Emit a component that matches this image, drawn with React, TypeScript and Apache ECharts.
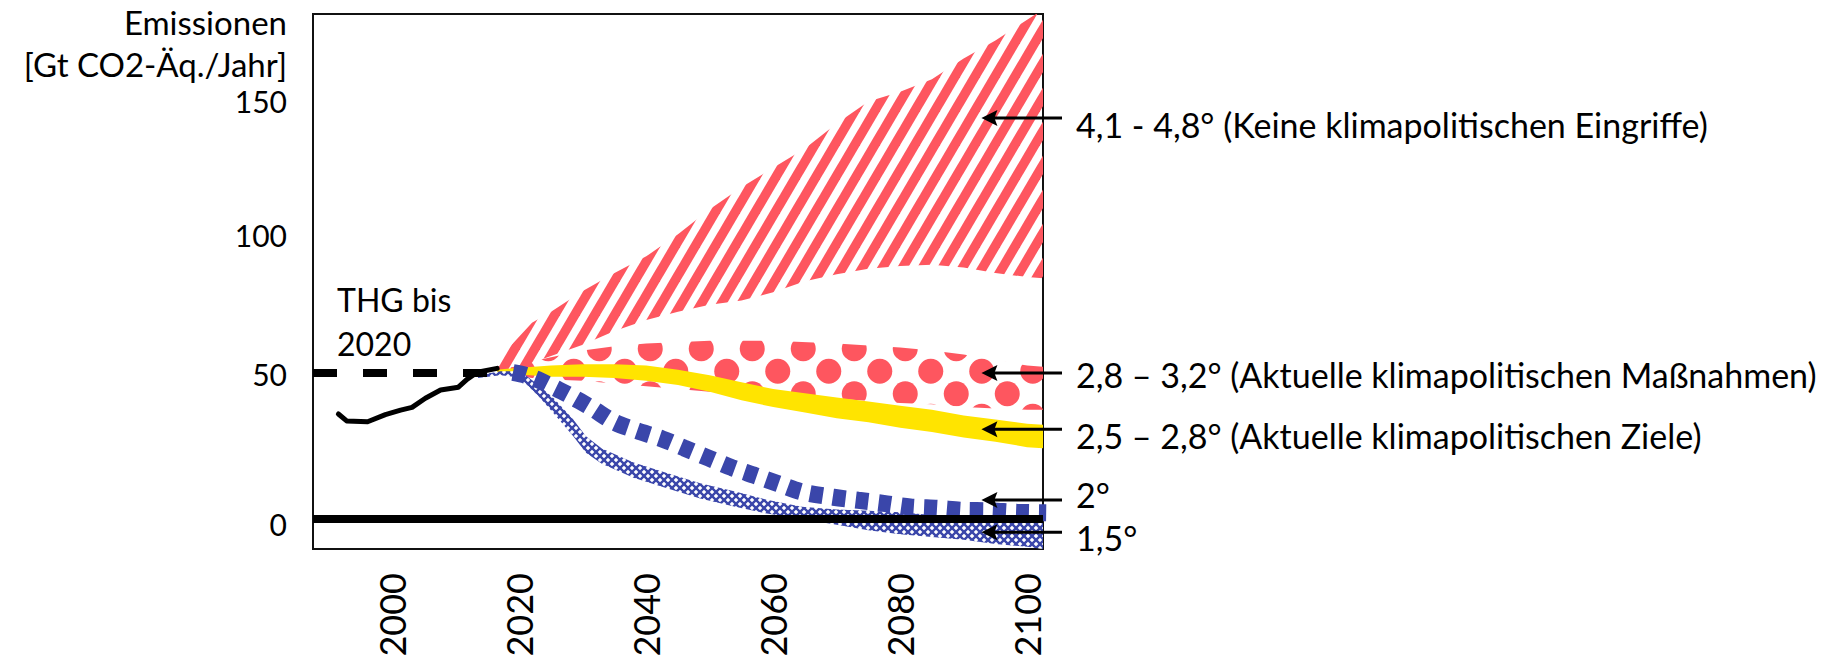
import React, { useEffect, useRef } from 'react';
import * as echarts from 'echarts';

// ---------- axes ----------
const X_MIN = 1987.5;
const X_MAX = 2102.5;
const Y_MIN = -10.8;
const Y_MAX = 182.6;
const X_TICKS = [2000, 2020, 2040, 2060, 2080, 2100];
const Y_TICKS = [0, 50, 100, 150];

// ---------- historical emissions ----------
const historyYears = [1991.5, 1992.8, 1996.1, 1998.9, 2001.3, 2003.1, 2005.2, 2007.6, 2010.4, 2011.8, 2013.4, 2016.5];
const historyValues = [38, 35.5, 35.2, 37.8, 39.4, 40.4, 43.7, 46.7, 47.7, 50.6, 53.1, 54.5];
const refYears = [1987.5, 2016];
const refValues = [52.8, 52.8];
const zeroYears = [X_MIN, X_MAX];
const zeroValues = [0, 0];

// ---------- 4,1 - 4,8° (no policy) ----------
const noPolicyYears = [2016.5, 2018, 2020, 2022, 2025, 2030, 2035, 2040, 2045, 2050, 2055, 2060, 2065, 2070, 2075, 2080, 2085, 2090, 2095, 2100, 2103];
const noPolicyHigh = [55, 61, 66, 71, 75, 82.5, 89, 95, 103, 112, 120, 127, 134, 143, 151, 154.5, 159, 166.5, 173, 180.5, 185];
const noPolicyLow = [53, 54, 55, 56.5, 59, 63, 68, 72, 75, 77.5, 79, 82, 86, 88.5, 90.5, 91.5, 92, 91, 89, 87.5, 87];

// ---------- 2,8 - 3,2° (current policies) ----------
const currentYears = [2016.5, 2019, 2022, 2025, 2030, 2035, 2040, 2050, 2060, 2070, 2080, 2085, 2090, 2095, 2100, 2103];
const currentHigh = [54, 55, 57, 58.5, 61, 62.5, 63.5, 64.5, 64.5, 63.5, 62, 61, 59.5, 57.5, 55.5, 55];
const currentLow = [53, 52, 51, 50.5, 50, 49, 48, 46, 45, 43.5, 42, 41.5, 40.5, 40, 39.5, 39.5];

// ---------- 2,5 - 2,8° (pledges) ----------
const pledgeYears = [2016.5, 2019, 2025, 2030, 2035, 2040, 2045, 2050, 2055, 2060, 2065, 2070, 2075, 2080, 2085, 2090, 2095, 2100, 2103];
const pledgeHigh = [54, 54.5, 55.5, 56, 56, 55.5, 54, 52, 49.5, 47, 45.5, 44, 42.5, 41, 39.5, 37.5, 36, 34.5, 34];
const pledgeLow = [53, 52.5, 51.5, 51.5, 51, 50, 48.5, 46, 43, 40.5, 38.5, 36.5, 35, 33, 31.5, 29.5, 28, 26, 25.5];

// ---------- 2° ----------
const c2Years = [2019, 2021, 2023.3, 2025.5, 2027.7, 2031.5, 2035, 2038.5, 2042.5, 2046, 2049.8, 2053.5, 2057.2, 2060.8, 2064.6, 2069.5, 2073.4, 2077.4, 2081.6, 2085.8, 2089.9, 2094.2, 2098.4, 2103];
const c2Values = [53, 52, 50, 47.5, 45, 40, 35, 32, 29, 25.7, 22.1, 18.6, 15.7, 12.8, 9.8, 7.9, 6.8, 5.7, 4.4, 3.9, 3.2, 3, 2.5, 2.3];

// ---------- 1,5° ----------
const c15Years = [2013.5, 2017, 2019, 2021, 2023, 2025.5, 2028.5, 2030.5, 2033, 2038, 2043.5, 2048.5, 2054, 2059, 2064.5, 2070, 2075, 2080, 2085, 2090, 2095, 2100, 2103];
const c15High = [52, 53.5, 53.5, 52, 48.5, 43.5, 36, 30, 25.5, 20.5, 16.5, 13, 10, 7, 4.5, 3.5, 3, 2.5, 1.5, 1, 0.5, 0, 0];
const c15Low = [51, 52, 51.5, 49, 44.5, 38, 30, 24, 20, 15, 11, 7.5, 4.5, 2, 0, -2, -4, -5.5, -6.5, -7.5, -9, -10, -11];

// ---------- annotations ----------
const ARROW_TIP_YEAR = 2092.8;
const arrowValues = [145, 52.8, 32.5, 6.9, -4.7];
const arrowLabels = [
  '4,1 - 4,8° (Keine klimapolitischen Eingriffe)',
  '2,8 – 3,2° (Aktuelle klimapolitischen Maßnahmen)',
  '2,5 – 2,8° (Aktuelle klimapolitischen Ziele)',
  '2°',
  '1,5°',
];
const labelDy = [6, 1, 6, -6, 5];
const yTitle = 'Emissionen\n[Gt CO2-Äq./Jahr]';
const histLabel = 'THG bis\n2020';

const RED = '#fe565f';
const BLUE = '#3a46aa';
const YELLOW = '#ffe400';
const FONT = 'Lato';

function makeCanvas(w: number, h: number, draw: (g: CanvasRenderingContext2D) => void) {
  const c = document.createElement('canvas');
  c.width = w;
  c.height = h;
  const g = c.getContext('2d') as CanvasRenderingContext2D;
  draw(g);
  return c;
}

function pattern(c: HTMLCanvasElement) {
  return { image: c, repeat: 'repeat', imageWidth: c.width, imageHeight: c.height } as any;
}

function bandSeries(name: string, years: number[], lo: number[], hi: number[], fill: any, z: number) {
  return {
    type: 'custom',
    name,
    z,
    clip: true,
    silent: true,
    coordinateSystem: 'cartesian2d',
    data: years.map((y, i) => [y, lo[i], hi[i]]),
    encode: { x: 0, y: [1, 2] },
    renderItem: (params: any, api: any) => {
      if (params.dataIndex !== 0) return null;
      const top = years.map((y, i) => api.coord([y, hi[i]]));
      const bottom = years.map((y, i) => api.coord([y, lo[i]])).reverse();
      return {
        type: 'polygon',
        shape: { points: top.concat(bottom) },
        style: { fill, stroke: null },
      };
    },
  };
}

function lineSeries(name: string, years: number[], values: number[], lineStyle: any, z: number, smooth: any = false) {
  return {
    type: 'line',
    name,
    z,
    silent: true,
    symbol: 'none',
    showSymbol: false,
    smooth,
    clip: true,
    data: years.map((y, i) => [y, values[i]]),
    lineStyle,
  };
}

export default function App() {
  const ref = useRef<HTMLDivElement>(null);

  useEffect(() => {
    if (!ref.current) return;
    const chart = echarts.init(ref.current, undefined, { renderer: 'svg' });

    const stripes = makeCanvas(20, 34, (g) => {
      g.strokeStyle = RED;
      g.lineWidth = 9.5;
      for (const dx of [-40, -20, 0, 20, 40]) {
        g.beginPath();
        g.moveTo(dx - 20, 68);
        g.lineTo(dx + 40, -34);
        g.stroke();
      }
    });
    const dots = makeCanvas(51, 45, (g) => {
      g.fillStyle = RED;
      const centers = [
        [12.75, 11.25],
        [38.25, 33.75],
      ];
      for (const [cx, cy] of centers) {
        for (const ox of [-51, 0, 51]) {
          for (const oy of [-45, 0, 45]) {
            g.beginPath();
            g.arc(cx + ox, cy + oy, 12.5, 0, Math.PI * 2);
            g.fill();
          }
        }
      }
    });
    const hatch = makeCanvas(8, 8, (g) => {
      g.fillStyle = '#ffffff';
      g.fillRect(0, 0, 8, 8);
      g.strokeStyle = BLUE;
      g.lineWidth = 2.4;
      for (const d of [-8, 0, 8]) {
        g.beginPath();
        g.moveTo(d - 2, -2);
        g.lineTo(d + 10, 10);
        g.stroke();
        g.beginPath();
        g.moveTo(d - 2, 10);
        g.lineTo(d + 10, -2);
        g.stroke();
      }
    });

    const axisFont = { fontFamily: FONT, color: '#000' };
    // small vertical nudges of the hand-placed tick labels in the original
    const yLabelRich: any = {
      t0: { fontFamily: FONT, fontSize: 30, color: '#000', padding: [10, 0, 0, 0] },
      t50: { fontFamily: FONT, fontSize: 30, color: '#000', padding: [0, 0, 14, 0] },
      t100: { fontFamily: FONT, fontSize: 30, color: '#000', padding: [0, 0, 14, 0] },
      t150: { fontFamily: FONT, fontSize: 30, color: '#000', padding: [0, 0, 6, 0] },
    };

    const option: any = {
      animation: false,
      backgroundColor: '#ffffff',
      grid: {
        left: 313,
        right: 790,
        top: 14,
        bottom: 111,
        show: true,
        borderColor: '#111',
        borderWidth: 2,
        containLabel: false,
        outerBoundsMode: 'none',
      },
      xAxis: {
        type: 'value',
        min: X_MIN,
        max: X_MAX,
        axisLine: { show: false },
        axisTick: { show: false },
        splitLine: { show: false },
        axisLabel: {
          ...axisFont,
          customValues: X_TICKS,
          rotate: 90,
          margin: 24,
          fontSize: 36,
          formatter: (v: number) => String(v),
        },
      },
      yAxis: {
        type: 'value',
        min: Y_MIN,
        max: Y_MAX,
        axisLine: { show: false },
        axisTick: { show: false },
        splitLine: { show: false },
        axisLabel: {
          ...axisFont,
          customValues: Y_TICKS,
          margin: 26,
          fontSize: 30,
          formatter: (v: number) => `{t${v}|${v}}`,
          rich: yLabelRich,
        },
      },
      series: [
        bandSeries('4,1 - 4,8°', noPolicyYears, noPolicyLow, noPolicyHigh, pattern(stripes), 1),
        bandSeries('2,8 - 3,2°', currentYears, currentLow, currentHigh, pattern(dots), 2),
        bandSeries('2,5 - 2,8°', pledgeYears, pledgeLow, pledgeHigh, YELLOW, 3),
        bandSeries('1,5°', c15Years, c15Low, c15High, pattern(hatch), 4),
        lineSeries('2°', c2Years, c2Values, { color: BLUE, width: 17, type: [13, 10], cap: 'butt' }, 5, 0.3),
        lineSeries('0', zeroYears, zeroValues, { color: '#000', width: 8 }, 6),
        lineSeries('Referenz', refYears, refValues, { color: '#000', width: 8, type: [24, 26], cap: 'butt' }, 7),
        lineSeries('THG', historyYears, historyValues, { color: '#000', width: 5, join: 'round', cap: 'round' }, 8),
      ],
    };
    chart.setOption(option);

    const toPx = (x: number, y: number) => chart.convertToPixel({ gridIndex: 0 }, [x, y]) as number[];
    const rightEdge = toPx(X_MAX, 0)[0];
    const leftEdge = toPx(X_MIN, 0)[0];
    const graphics: any[] = [];
    arrowValues.forEach((v, i) => {
      const [tx, ty] = toPx(ARROW_TIP_YEAR, v);
      graphics.push({
        type: 'line',
        z: 100,
        shape: { x1: tx + 10, y1: ty, x2: rightEdge + 19, y2: ty },
        style: { stroke: '#000', lineWidth: 3 },
      });
      graphics.push({
        type: 'polygon',
        z: 100,
        shape: { points: [[tx, ty], [tx + 16, ty - 8], [tx + 13, ty], [tx + 16, ty + 8]] },
        style: { fill: '#000' },
      });
      graphics.push({
        type: 'text',
        z: 100,
        x: rightEdge + 33,
        y: ty + labelDy[i],
        style: {
          text: arrowLabels[i],
          fontFamily: FONT,
          fontSize: 34,
          fill: '#000',
          align: 'left',
          verticalAlign: 'middle',
        },
      });
    });
    graphics.push({
      type: 'text',
      z: 100,
      x: leftEdge - 26,
      y: 1,
      style: {
        text: yTitle,
        fontFamily: FONT,
        fontSize: 33,
        lineHeight: 42,
        fill: '#000',
        align: 'right',
        verticalAlign: 'top',
      },
    });
    graphics.push({
      type: 'text',
      z: 100,
      x: leftEdge + 24,
      y: 277,
      style: {
        text: histLabel,
        fontFamily: FONT,
        fontSize: 32,
        lineHeight: 44,
        fill: '#000',
        align: 'left',
        verticalAlign: 'top',
      },
    });
    chart.setOption({ graphic: graphics });

    return () => chart.dispose();
  }, []);

  return (
    <div
      ref={ref}
      style={{ position: 'absolute', left: 0, top: 0, width: 1833, height: 660, background: '#fff' }}
    />
  );
}
